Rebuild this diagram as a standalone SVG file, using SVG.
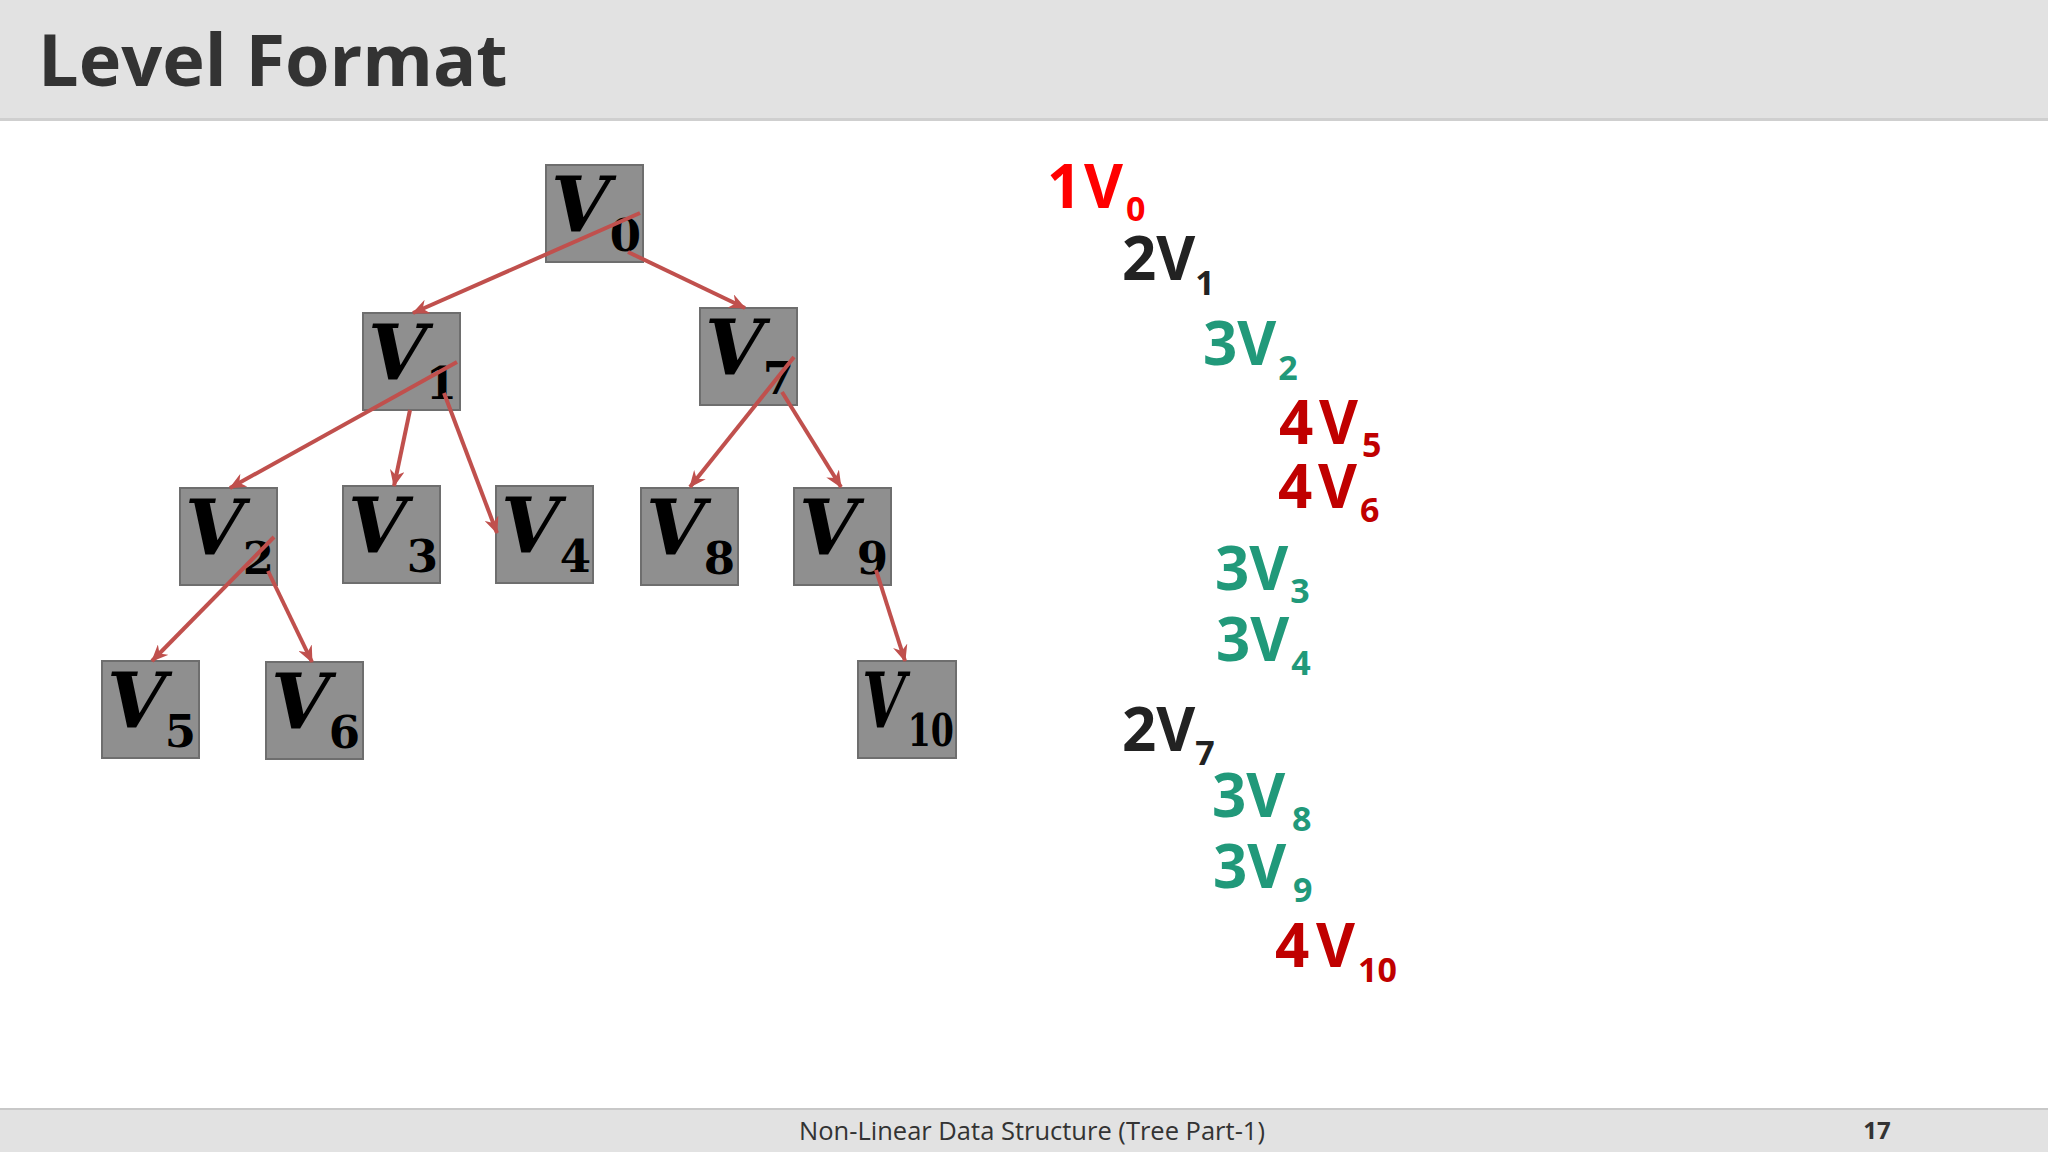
<svg xmlns="http://www.w3.org/2000/svg" width="2048" height="1152" viewBox="0 0 2048 1152">
<defs>
<style>
.box{fill:#8f8f8f;stroke:#6e6e6e;stroke-width:2}
.v{font-family:"DejaVu Serif","Liberation Serif",serif;font-weight:bold;font-style:italic;font-size:76px;fill:#000}
.s{font-family:"DejaVu Serif","Liberation Serif",serif;font-weight:bold;font-size:45px;fill:#000;text-anchor:end}
.edge{fill:none;stroke:#c0504d;stroke-width:4;marker-end:url(#ah)}
.lv{font-family:"Open Sans","Noto Sans","Liberation Sans",sans-serif;font-weight:bold;font-size:60px}
.sub{font-size:34px}
.red{fill:#ff0000}.blk{fill:#222222}.grn{fill:#21997a}.dred{fill:#c00000}
</style>
<marker id="ah" viewBox="0 0 16 14" refX="15" refY="7" markerWidth="17" markerHeight="15" markerUnits="userSpaceOnUse" orient="auto">
<path d="M0,0 L16,7 L0,14 L5,7 z" fill="#c0504d"/>
</marker>
</defs>
<rect width="2048" height="1152" fill="#ffffff"/>
<g id="header">
<rect x="0" y="0" width="2048" height="120" fill="#e2e2e2"/>
<rect x="0" y="118" width="2048" height="3" fill="#cfcfcf"/>
<text x="38" y="86" font-family="'Open Sans','Noto Sans','Liberation Sans',sans-serif" font-weight="bold" font-size="72" fill="#333333">Level Format</text>
</g>
<g id="footer">
<rect x="0" y="1109" width="2048" height="43" fill="#e2e2e2"/>
<rect x="0" y="1108" width="2048" height="2" fill="#c8c8c8"/>
<text x="1032" y="1140" text-anchor="middle" font-family="'Open Sans','Noto Sans','Liberation Sans',sans-serif" font-size="25.5" fill="#333333">Non-Linear Data Structure (Tree Part-1)</text>
<text x="1877" y="1139" text-anchor="middle" font-family="'Open Sans','Noto Sans','Liberation Sans',sans-serif" font-weight="bold" font-size="24" fill="#333333">17</text>
</g>
<g id="node-v0"><rect class="box" x="546" y="165" width="97" height="97"/><text class="v" x="551" y="232">V</text><text class="s" x="641" y="251">0</text></g>
<g id="node-v1"><rect class="box" x="363" y="313" width="97" height="97"/><text class="v" x="368" y="380">V</text><text class="s" x="457" y="399">1</text></g>
<g id="node-v7"><rect class="box" x="700" y="308" width="97" height="97"/><text class="v" x="705" y="375">V</text><text class="s" x="794" y="394">7</text></g>
<g id="node-v2"><rect class="box" x="180" y="488" width="97" height="97"/><text class="v" x="185" y="555">V</text><text class="s" x="274" y="574">2</text></g>
<g id="node-v3"><rect class="box" x="343" y="486" width="97" height="97"/><text class="v" x="348" y="553">V</text><text class="s" x="438" y="572">3</text></g>
<g id="node-v4"><rect class="box" x="496" y="486" width="97" height="97"/><text class="v" x="501" y="553">V</text><text class="s" x="591" y="572">4</text></g>
<g id="node-v8"><rect class="box" x="641" y="488" width="97" height="97"/><text class="v" x="646" y="555">V</text><text class="s" x="735" y="574">8</text></g>
<g id="node-v9"><rect class="box" x="794" y="488" width="97" height="97"/><text class="v" x="799" y="555">V</text><text class="s" x="888" y="574">9</text></g>
<g id="node-v5"><rect class="box" x="102" y="661" width="97" height="97"/><text class="v" x="107" y="728">V</text><text class="s" x="196" y="747">5</text></g>
<g id="node-v6"><rect class="box" x="266" y="662" width="97" height="97"/><text class="v" x="271" y="729">V</text><text class="s" x="360" y="748">6</text></g>
<g id="node-v10"><rect class="box" x="858" y="661" width="98" height="97"/><text class="v" transform="translate(862,728) scale(0.74,1)">V</text><text class="s" transform="translate(954,746) scale(0.74,1)">10</text></g>
<g id="connectors">
<path class="edge" d="M640,213 L413,313"/>
<path class="edge" d="M628,252 L745,308"/>
<path class="edge" d="M457,362 L230,488"/>
<path class="edge" d="M410,410 L394,486"/>
<path class="edge" d="M444,393 L497,533"/>
<path class="edge" d="M794,357 L690,487"/>
<path class="edge" d="M782,392 L841,487"/>
<path class="edge" d="M274,537 L152,661"/>
<path class="edge" d="M268,571 L312,662"/>
<path class="edge" d="M876,570 L905,661"/>
</g>
<g id="level-list">
<text class="lv red" x="1047" y="208">1<tspan x="1084">V</tspan><tspan class="sub" x="1126" y="221">0</tspan></text>
<text class="lv blk" x="1122" y="280">2V<tspan class="sub" y="295">1</tspan></text>
<text class="lv grn" x="1203" y="365">3V<tspan class="sub" dx="2" y="380">2</tspan></text>
<text class="lv dred" x="1279" y="444">4<tspan x="1319">V</tspan><tspan class="sub" x="1362" y="457">5</tspan></text>
<text class="lv dred" x="1278" y="508">4<tspan x="1318">V</tspan><tspan class="sub" x="1360" y="522">6</tspan></text>
<text class="lv grn" x="1215" y="590">3V<tspan class="sub" dx="2" y="603">3</tspan></text>
<text class="lv grn" x="1216" y="661">3V<tspan class="sub" dx="2" y="675">4</tspan></text>
<text class="lv blk" x="1122" y="751">2V<tspan class="sub" y="765">7</tspan></text>
<text class="lv grn" x="1212" y="817">3V<tspan class="sub" x="1292" y="831">8</tspan></text>
<text class="lv grn" x="1213" y="888">3V<tspan class="sub" x="1293" y="902">9</tspan></text>
<text class="lv dred" x="1275" y="967">4<tspan x="1316">V</tspan><tspan class="sub" x="1358" y="982">10</tspan></text>
</g>
</svg>
